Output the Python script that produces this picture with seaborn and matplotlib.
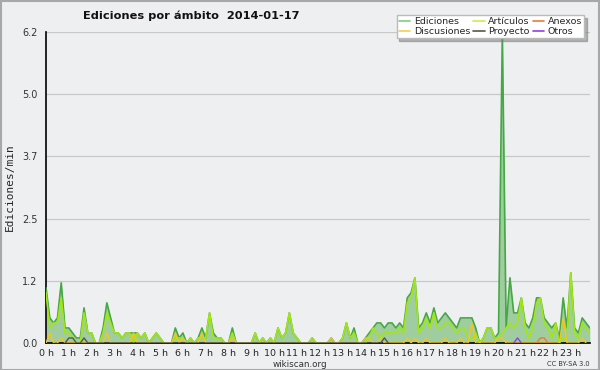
import numpy as np
import pandas as pd
import matplotlib
matplotlib.use("Agg")
import matplotlib.pyplot as plt
from matplotlib.ticker import MultipleLocator, FixedLocator
from matplotlib.patches import Rectangle
import seaborn as sns

# ediciones por minuto, una muestra cada 10 minutos (6 por hora)
ediciones = [
    1.1, 0.5, 0.4, 0.5, 1.2, 0.3,   # 0 h
    0.3, 0.2, 0.1, 0.1, 0.7, 0.2,   # 1 h
    0.2, 0.0, 0.0, 0.3, 0.8, 0.5,   # 2 h
    0.2, 0.2, 0.1, 0.2, 0.2, 0.2,   # 3 h
    0.2, 0.1, 0.2, 0.0, 0.1, 0.2,   # 4 h
    0.1, 0.0, 0.0, 0.0, 0.3, 0.1,   # 5 h
    0.2, 0.0, 0.1, 0.0, 0.1, 0.3,   # 6 h
    0.1, 0.6, 0.2, 0.1, 0.1, 0.0,   # 7 h
    0.0, 0.3, 0.0, 0.0, 0.0, 0.0,   # 8 h
    0.0, 0.2, 0.0, 0.1, 0.0, 0.1,   # 9 h
    0.0, 0.3, 0.1, 0.2, 0.6, 0.2,   # 10 h
    0.1, 0.0, 0.0, 0.0, 0.1, 0.0,   # 11 h
    0.0, 0.0, 0.0, 0.1, 0.0, 0.0,   # 12 h
    0.1, 0.4, 0.1, 0.3, 0.0, 0.0,   # 13 h
    0.1, 0.2, 0.3, 0.4, 0.4, 0.3,   # 14 h
    0.4, 0.4, 0.3, 0.4, 0.3, 0.9,   # 15 h
    1.0, 1.3, 0.3, 0.4, 0.6, 0.4,   # 16 h
    0.7, 0.4, 0.5, 0.6, 0.5, 0.4,   # 17 h
    0.3, 0.5, 0.5, 0.5, 0.5, 0.3,   # 18 h
    0.0, 0.1, 0.3, 0.3, 0.1, 0.2,   # 19 h
    6.2, 0.3, 1.3, 0.6, 0.6, 0.9,   # 20 h
    0.4, 0.3, 0.5, 0.9, 0.9, 0.5,   # 21 h
    0.4, 0.3, 0.4, 0.1, 0.9, 0.3,   # 22 h
    1.4, 0.3, 0.2, 0.5, 0.4, 0.3,   # 23 h
]
articulos = [
    1.0, 0.3, 0.4, 0.4, 0.9, 0.2,
    0.2, 0.1, 0.0, 0.0, 0.6, 0.2,
    0.2, 0.0, 0.0, 0.2, 0.6, 0.4,
    0.2, 0.2, 0.1, 0.2, 0.2, 0.0,
    0.2, 0.1, 0.2, 0.0, 0.1, 0.2,
    0.1, 0.0, 0.0, 0.0, 0.1, 0.1,
    0.1, 0.0, 0.1, 0.0, 0.1, 0.1,
    0.1, 0.6, 0.1, 0.1, 0.1, 0.0,
    0.0, 0.2, 0.0, 0.0, 0.0, 0.0,
    0.0, 0.2, 0.0, 0.1, 0.0, 0.1,
    0.0, 0.3, 0.1, 0.2, 0.6, 0.2,
    0.1, 0.0, 0.0, 0.0, 0.1, 0.0,
    0.0, 0.0, 0.0, 0.0, 0.0, 0.0,
    0.1, 0.4, 0.1, 0.2, 0.0, 0.0,
    0.0, 0.1, 0.3, 0.2, 0.1, 0.2,
    0.2, 0.2, 0.2, 0.3, 0.2, 0.8,
    0.9, 1.3, 0.2, 0.3, 0.5, 0.3,
    0.6, 0.3, 0.3, 0.4, 0.4, 0.3,
    0.2, 0.3, 0.3, 0.1, 0.1, 0.2,
    0.0, 0.1, 0.3, 0.3, 0.1, 0.1,
    0.2, 0.3, 0.4, 0.3, 0.4, 0.9,
    0.3, 0.1, 0.3, 0.8, 0.9, 0.4,
    0.3, 0.1, 0.4, 0.0, 0.1, 0.1,
    1.4, 0.2, 0.1, 0.4, 0.3, 0.2,
]
# series casi vacias: {muestra: valor}
discusiones_pts = {1: 0.2, 4: 0.1, 16: 0.2, 23: 0.2, 34: 0.2, 36: 0.1, 41: 0.2,
                   49: 0.1, 75: 0.1, 84: 0.1, 85: 0.1, 88: 0.1, 95: 0.1, 97: 0.1,
                   100: 0.1, 105: 0.1, 109: 0.1, 112: 0.4, 119: 0.1, 120: 0.1,
                   136: 0.5, 141: 0.1}
proyecto_pts = {6: 0.1, 7: 0.1, 10: 0.1, 89: 0.1}
anexos_pts = {130: 0.1, 131: 0.1}
otros_pts = {124: 0.1}

n = len(ediciones)
def expand(pts):
    v = [0.0] * n
    for k, val in pts.items():
        v[k] = val
    return v

df = pd.DataFrame({
    "hora": np.arange(n) / 6.0,
    "Ediciones": ediciones,
    "Artículos": articulos,
    "Discusiones": expand(discusiones_pts),
    "Proyecto": expand(proyecto_pts),
    "Anexos": expand(anexos_pts),
    "Otros": expand(otros_pts),
})

colores = {"Ediciones": "#44a844", "Artículos": "#a2e614", "Discusiones": "#f2c524",
           "Proyecto": "#555555", "Anexos": "#f07838", "Otros": "#9040e8"}
leyenda = {"Ediciones": "#7ed07e", "Artículos": "#c8ee50", "Discusiones": "#f6d050",
           "Proyecto": "#555555", "Anexos": "#f07838", "Otros": "#9040e8"}

sns.set_style("white")
plt.rcParams["font.family"] = ["DejaVu Sans"]
bg = "#eeeff1"

fig = plt.figure(figsize=(6, 3.7), dpi=100, facecolor=bg)
ax = fig.add_axes([0.0767, 0.073, 0.9063, 0.8405])
ax.set_facecolor(bg)

ymax = 6.2
yt = np.linspace(0, ymax, 6)
for y in yt[1:]:
    ax.axhline(y, color="#c8c8c8", lw=0.9, zorder=0)

ax.fill_between(df["hora"], 0, df["Ediciones"], color="#9ccc9c", alpha=0.95, lw=0, zorder=1)
sns.lineplot(data=df, x="hora", y="Ediciones", color=colores["Ediciones"], lw=1.2, ax=ax, zorder=3)
sns.lineplot(data=df, x="hora", y="Artículos", color=colores["Artículos"], lw=1.2, ax=ax, zorder=3)
for serie in ["Discusiones", "Proyecto", "Anexos", "Otros"]:
    # solo los tramos donde la serie no es cero
    vals = df[serie].values
    mask = np.zeros(n, dtype=bool)
    for k in np.nonzero(vals)[0]:
        mask[max(k - 1, 0):min(k + 2, n)] = True
    part = df[serie].where(mask)
    sns.lineplot(x=df["hora"], y=part, color=colores[serie], lw=1.0, ax=ax, zorder=4)

ax.set_xlim(0, (n - 1) / 6.0)
ax.set_ylim(0, ymax)
ax.set_yticks(yt)
ax.set_yticklabels(["0.0", "1.2", "2.5", "3.7", "5.0", "6.2"])
ax.yaxis.set_minor_locator(FixedLocator((yt[:-1] + yt[1:]) / 2))
ax.set_xticks(range(24))
ax.set_xticklabels([f"{h} h" for h in range(24)])
ax.xaxis.set_minor_locator(MultipleLocator(1 / 6.0))
ax.tick_params(axis="y", which="major", direction="out", length=5, width=1,
               color="black", labelsize=7, pad=1, labelcolor="#333333")
ax.tick_params(axis="x", which="major", direction="out", length=4, width=1,
               color="black", labelsize=6.8, pad=0.5)
ax.tick_params(axis="both", which="minor", direction="out", length=3, width=1, color="black")
ax.set_xlabel("")
ax.set_ylabel("Ediciones/min", family="DejaVu Sans Mono", fontsize=8, labelpad=5)
for s in ["top", "right"]:
    ax.spines[s].set_visible(False)
for s in ["left", "bottom"]:
    ax.spines[s].set_color("black")
    ax.spines[s].set_linewidth(1.2)

fig.text(0.138, 0.948, "Ediciones por ámbito  2014-01-17", fontsize=8.2,
         fontweight="bold", color="#111111")
fig.text(0.5, 0.008, "wikiscan.org", fontsize=6.3, ha="center", color="#333333")
fig.text(0.982, 0.01, "CC BY-SA 3.0", fontsize=4.8, ha="right", color="#333333")

orden = ["Ediciones", "Discusiones", "Artículos", "Proyecto", "Anexos", "Otros"]
handles = [plt.Line2D([], [], color=leyenda[s], lw=1.2) for s in orden]
leg = fig.legend(handles, orden, ncol=3, loc="upper right", bbox_to_anchor=(0.982, 0.972),
                 fontsize=6.8, frameon=True, fancybox=False, shadow={"color": "#777777"},
                 handlelength=1.2, handletextpad=0.4, columnspacing=0.3,
                 labelspacing=0.05, borderpad=0.25)
leg.get_frame().set_facecolor("white")
leg.get_frame().set_edgecolor("#bbbbbb")

fig.add_artist(Rectangle((0.001, 0.001), 0.997, 0.997, transform=fig.transFigure,
                         fill=False, edgecolor="#a8a8a8", lw=1.5))

fig.savefig("out.png", dpi=100, facecolor=bg)
